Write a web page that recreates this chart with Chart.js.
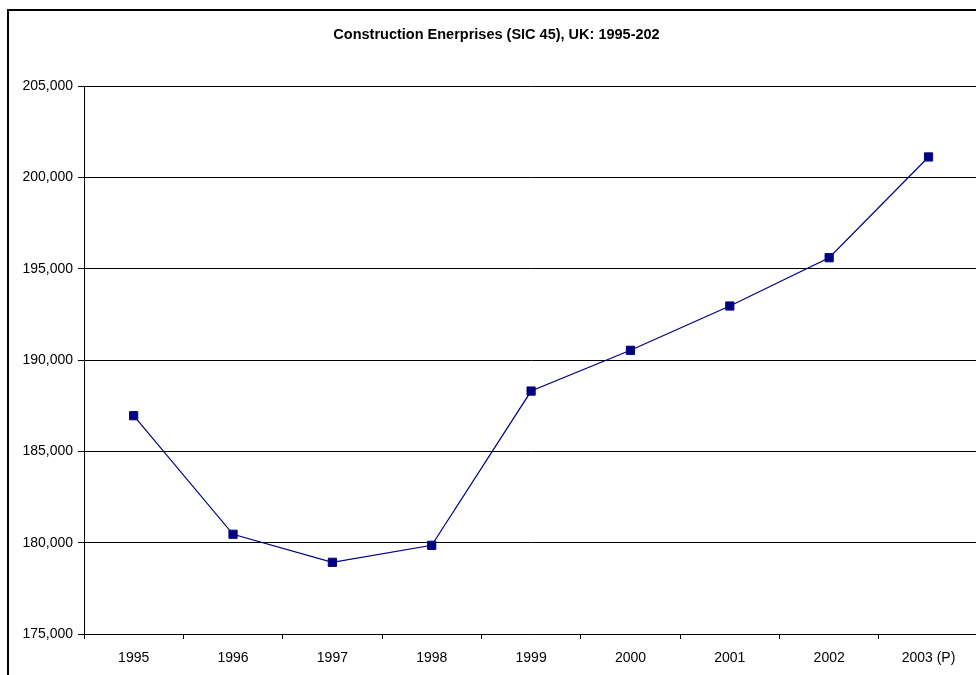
<!DOCTYPE html>
<html>
<head>
<meta charset="utf-8">
<script src="https://cdn.jsdelivr.net/npm/chart.js@4"></script>
<style>
  html, body { margin: 0; padding: 0; background: #fff; overflow: hidden; }
  #wrap { position: relative; width: 985px; height: 675px; }
  #frame { position: absolute; left: 7px; top: 9px; right: 0; bottom: 0;
           border-left: 2px solid #000; border-top: 2px solid #000; pointer-events: none; }
</style>
</head>
<body>
<div id="wrap">
  <canvas id="c" width="985" height="675"></canvas>
  <div id="frame"></div>
</div>
<script>
const titleText = 'Construction Enerprises (SIC 45), UK: 1995-202';
const categories = ['1995', '1996', '1997', '1998', '1999', '2000', '2001', '2002', '2003 (P)'];
const enterprises = [186950, 180460, 178925, 179855, 188300, 190530, 192955, 195600, 201115];
const yMin = 175000;
const yMax = 205000;
const yStep = 5000;

const FONT = "'Liberation Sans', Arial, sans-serif";

new Chart(document.getElementById('c'), {
  type: 'line',
  data: {
    labels: categories,
    datasets: [{
      label: 'Enterprises',
      data: enterprises,
      borderColor: '#000080',
      backgroundColor: '#000080',
      borderWidth: 1.2,
      pointStyle: 'rect',
      pointRadius: 5.8,
      pointBorderWidth: 1,
      pointBorderColor: '#000080',
      pointBackgroundColor: '#000080',
      tension: 0,
      fill: false
    }]
  },
  options: {
    responsive: false,
    animation: false,
    devicePixelRatio: 1,
    layout: { padding: { left: 10, right: 2, top: 0, bottom: 0 } },
    plugins: {
      legend: { display: false },
      tooltip: { enabled: false },
      title: {
        display: true,
        text: titleText,
        color: '#000',
        font: { family: FONT, size: 14.5, weight: 'bold' },
        padding: { top: 26.5, bottom: 42.1 }
      }
    },
    scales: {
      x: {
        offset: true,
        grid: { offset: true, drawOnChartArea: false, drawTicks: true, tickLength: 5, color: '#000', lineWidth: 1 },
        border: { display: true, color: '#000', width: 1 },
        ticks: { color: '#000', font: { family: FONT, size: 14 }, padding: 11, maxRotation: 0, autoSkip: false },
        afterFit: (s) => { s.height = 41; }
      },
      y: {
        min: yMin,
        max: yMax,
        grid: { color: '#000', lineWidth: 1, drawTicks: true, tickLength: 6 },
        border: { display: true, color: '#000', width: 1 },
        ticks: {
          stepSize: yStep,
          color: '#000',
          padding: 5,
          font: { family: FONT, size: 14 },
          callback: (v) => v.toLocaleString('en-US')
        },
        afterFit: (s) => { s.width = 74; }
      }
    }
  }
});
</script>
</body>
</html>
